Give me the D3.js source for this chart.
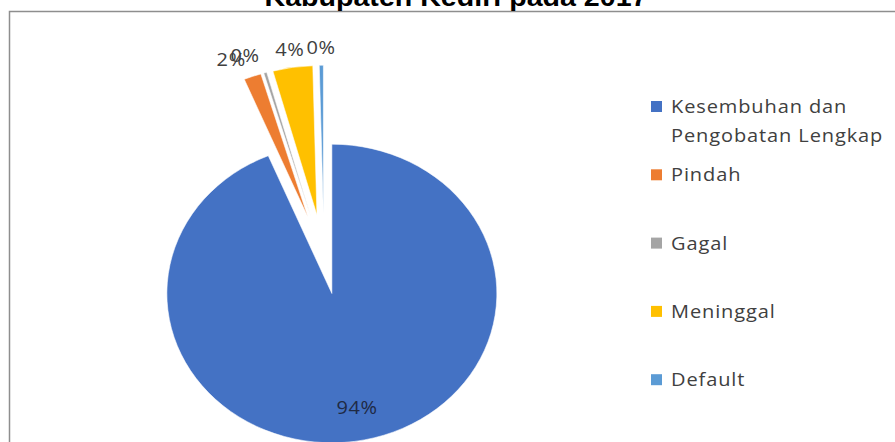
<!DOCTYPE html>
<html>
<head>
<meta charset="utf-8">
<script src="https://cdn.jsdelivr.net/npm/d3@7"></script>
<style>
  html, body { margin: 0; padding: 0; background: #ffffff; overflow: hidden; }
  svg { display: block; }
</style>
</head>
<body>
<svg id="chart" width="895" height="442"></svg>
<script>
// Treatment outcome shares (percent)
const categories = ["Kesembuhan dan Pengobatan Lengkap", "Pindah", "Gagal", "Meninggal", "Default"];
const legendLines = [["Kesembuhan dan", "Pengobatan Lengkap"], ["Pindah"], ["Gagal"], ["Meninggal"], ["Default"]];
const shares = [93.7, 1.7, 0.3, 3.9, 0.4];
const colors = ["#4472C4", "#ED7D31", "#A5A5A5", "#FFC000", "#5B9BD5"];
const titleText = "Kabupaten Kediri pada 2017";

const svg = d3.select("#chart");
const W = 895, H = 442;

// chart frame
svg.append("rect")
  .attr("x", 9.5).attr("y", 11.5)
  .attr("width", W + 50).attr("height", H + 50)
  .attr("fill", "#ffffff")
  .attr("stroke", "#8e8e8e")
  .attr("stroke-width", 1.5);

// title (runs off the top edge)
svg.append("text")
  .attr("x", 456).attr("y", 6)
  .attr("text-anchor", "middle")
  .attr("font-family", "Liberation Sans, Arial, sans-serif")
  .attr("font-weight", "bold")
  .attr("font-size", 26)
  .attr("textLength", 383)
  .attr("lengthAdjust", "spacingAndGlyphs")
  .attr("fill", "#000")
  .text(titleText);

// pie geometry (the whole chart is slightly squashed vertically)
const cx = 324, cy = 258, R = 165, squash = 0.905;
const explodeMain = 40, explodeSmall = 48;

const data = categories.map((c, i) => ({ name: c, value: shares[i], color: colors[i] }));
const pie = d3.pie().sort(null).value(d => d.value).startAngle(0).endAngle(2 * Math.PI);
const arcs = pie(data);
const arc = d3.arc().innerRadius(0).outerRadius(R);

const pieG = svg.append("g")
  .attr("transform", `translate(${cx},${cy}) scale(1,${squash})`);

pieG.selectAll("path")
  .data(arcs)
  .join("path")
  .attr("d", arc)
  .attr("fill", d => d.data.color)
  .attr("stroke", "#ffffff")
  .attr("stroke-width", 0.6)
  .attr("transform", (d, i) => {
    const mid = (d.startAngle + d.endAngle) / 2;
    const e = i === 0 ? explodeMain : explodeSmall;
    return `translate(${Math.sin(mid) * e},${-Math.cos(mid) * e})`;
  });

// squashed text helper: draws text at (x, y) compressed vertically
function squashedText(parent, x, y) {
  return parent.append("g")
    .attr("transform", `translate(${x},${y}) scale(1,${squash})`)
    .append("text");
}

// data labels
const fmt = d3.format(".0%");
const labelFont = "'Open Sans', Lato, sans-serif";
arcs.forEach((d, i) => {
  const mid = (d.startAngle + d.endAngle) / 2;
  let x, y, anchor = "middle";
  if (i === 0) {
    const e = explodeMain, r = 128;
    x = cx + Math.sin(mid) * (e + r);
    y = cy - Math.cos(mid) * (e + r) * squash;
  } else {
    const r = 233;
    x = cx + Math.sin(mid) * r;
    y = cy - Math.cos(mid) * r * squash;
    if (Math.sin(mid) < -0.2) anchor = "end";
  }
  squashedText(svg, x, y)
    .attr("text-anchor", anchor)
    .attr("dominant-baseline", "central")
    .attr("font-family", labelFont)
    .attr("font-size", 20)
    .attr("letter-spacing", 0.6)
    .attr("fill", i === 0 ? "#1f2a44" : "#404040")
    .text(fmt(d.data.value / 100));
});

// legend
const legend = svg.append("g").attr("font-family", labelFont).attr("font-size", 20).attr("fill", "#404040");
const legendTop = 113, legendStep = 68.3;
legendLines.forEach((lines, i) => {
  const y = legendTop + i * legendStep;
  legend.append("rect")
    .attr("x", 651).attr("y", y - 12)
    .attr("width", 11).attr("height", 11)
    .attr("fill", colors[i]);
  lines.forEach((ln, j) => {
    squashedText(legend, 671, y + j * 29)
      .attr("letter-spacing", 0.9)
      .text(ln);
  });
});
</script>
</body>
</html>
